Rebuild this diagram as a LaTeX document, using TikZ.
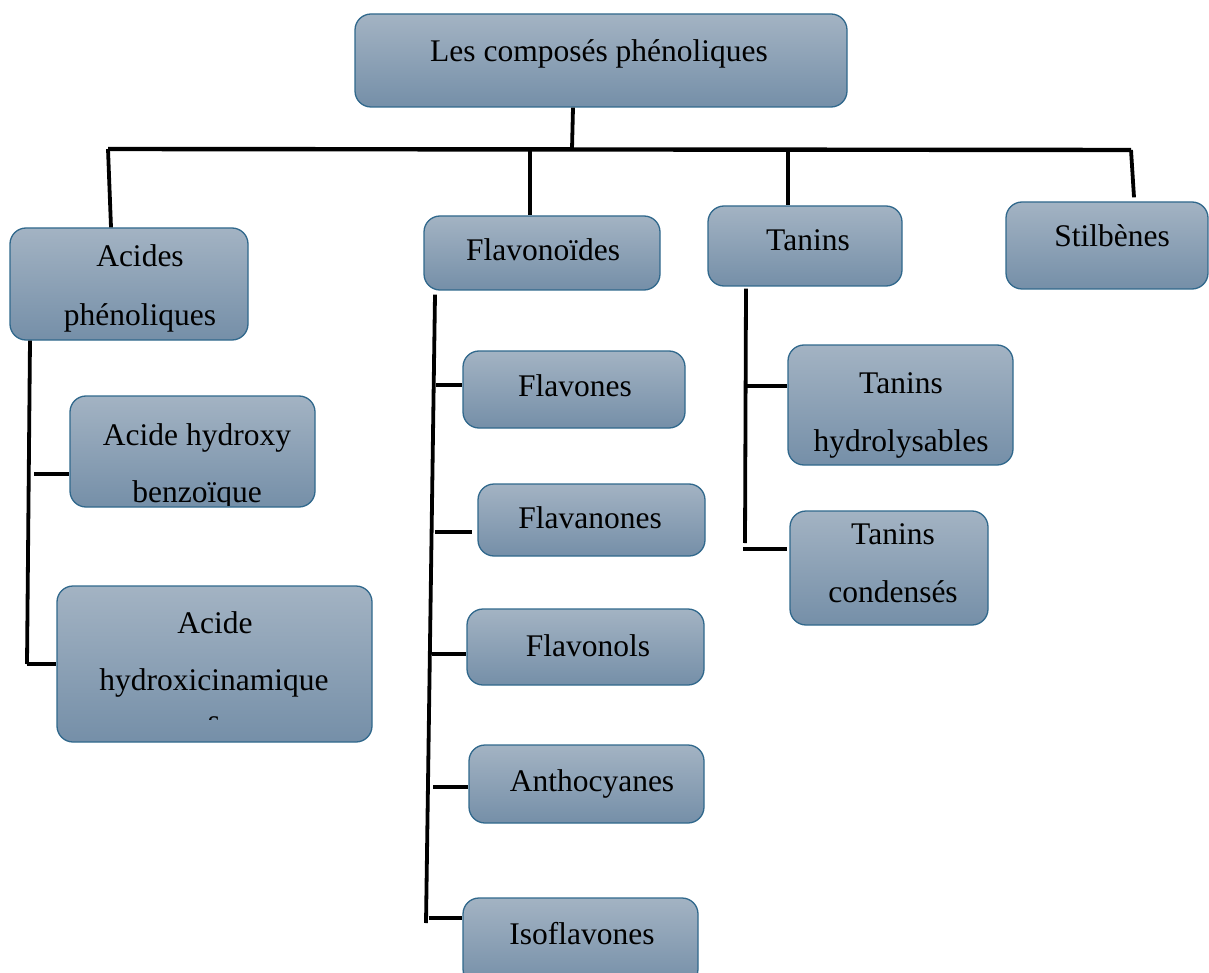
\documentclass[tikz,border=0pt]{standalone}
\usepackage{fontspec}
\setmainfont{Liberation Serif}
\definecolor{boxtop}{RGB}{163,179,195}
\definecolor{boxbot}{RGB}{117,143,168}
\definecolor{boxline}{RGB}{48,104,140}
\tikzset{
  phbox/.style={draw=boxline, line width=1.3pt, rounded corners=16pt,
    top color=boxtop, bottom color=boxbot, inner sep=0pt, rectangle},
  txt/.style={anchor=base, inner sep=0pt, font=\fontsize{31.5}{58}\selectfont, text=black},
  conn/.style={line width=3.8pt, black},
  bus/.style={line width=4.4pt, black}
}
\newcommand\phnode[5]{%
  \node[phbox, minimum width={(#4-#2)*1pt}, minimum height={(#5-#3)*1pt}]
    (#1) at ({(#2+#4)/2},{(#3+#5)/2}) {};}
\begin{document}
\begin{tikzpicture}[x=1pt,y=-1pt]
\useasboundingbox (0,0) rectangle (1209,973);
% boxes
\phnode{top}{355}{14}{847}{107}
\phnode{acides}{10}{228}{248}{340}
\phnode{flavonoides}{424}{216}{660}{290}
\phnode{tanins}{708}{206}{902}{286}
\phnode{stilbenes}{1006}{202}{1208}{289}
\phnode{hbenz}{70}{396}{315}{507}
\phnode{hcinn}{57}{586}{372}{742}
\phnode{flavones}{463}{351}{685}{428}
\phnode{flavanones}{478}{484}{705}{556}
\phnode{flavonols}{467}{609}{704}{685}
\phnode{antho}{469}{745}{704}{823}
\phnode{isofl}{463}{898}{698}{985}
\phnode{thydro}{788}{345}{1013}{465}
\phnode{tcond}{790}{511}{988}{625}
% texts
\node[txt] (ttop) at (599,62) {Les composés phénoliques};
\node[txt] (tac1) at (140,267) {Acides};
\node[txt] (tac2) at (140,325) {phénoliques};
\node[txt] (tfla) at (543,261) {Flavonoïdes};
\node[txt] (ttan) at (808,251) {Tanins};
\node[txt] (tsti) at (1112,247) {Stilbènes};
\node[txt] (thb1) at (197,445) {Acide hydroxy};
\begin{scope}
  \clip (60,380) rectangle (330,505);
  \node[txt] (thb2) at (197,502) {benzoïque};
\end{scope}
\node[txt] (thc1) at (215,633) {Acide};
\node[txt] (thc2) at (214,690) {hydroxicinamique};
\begin{scope}
  \clip (60,700) rectangle (370,719);
  \node[txt] (thc3) at (214,731) {s};
\end{scope}
\node[txt] (tfl1) at (575,396) {Flavones};
\node[txt] (tfl2) at (590,528) {Flavanones};
\node[txt] (tfl3) at (588,656) {Flavonols};
\node[txt] (tfl4) at (592,791) {Anthocyanes};
\node[txt] (tfl5) at (582,944) {Isoflavones};
\node[txt] (tth1) at (901,393) {Tanins};
\node[txt] (tth2) at (901,451) {hydrolysables};
\node[txt] (ttc1) at (893,544) {Tanins};
\node[txt] (ttc2) at (893,602) {condensés};
% bus
\coordinate (b1) at (108,149);
\coordinate (b2) at (530,149);
\coordinate (b3) at (788,150);
\coordinate (b4) at (1131,150);
\draw[conn] ([xshift=-28pt]top.south) -- (572,149);
\draw[bus] (b1) -- (b4);
\draw[conn] (b1) -- ([xshift=-18pt]acides.north);
\draw[conn] (b2) -- ([xshift=-12pt]flavonoides.north);
\draw[conn] (b3) -- ([xshift=-17pt]tanins.north);
\draw[conn] (b4) -- ([xshift=27pt,yshift=4pt]stilbenes.north);
% acides
\coordinate (a0) at (27,664);
\coordinate (a1) at (34,474);
\draw[conn] ([xshift=-99pt]acides.south) -- (a0);
\draw[conn] (a1) -- (a1 -| hbenz.west);
\draw[conn] (a0) -- (a0 -| hcinn.west);
% flavonoides
\coordinate (f0) at (426,923);
\draw[conn] ([xshift=-107pt,yshift=-4pt]flavonoides.south) -- (f0);
\coordinate (fb1) at (436,385);
\coordinate (fb2) at (435,532);
\coordinate (fb3) at (432,654);
\coordinate (fb4) at (433,787);
\coordinate (fb5) at (429,918);
\draw[conn] (fb1) -- (fb1 -| flavones.west);
\draw[conn] (fb2) -- ([xshift=-5pt]fb2 -| flavanones.west);
\draw[conn] (fb3) -- (fb3 -| flavonols.west);
\draw[conn] (fb4) -- (fb4 -| antho.west);
\draw[conn] (fb5) -- (fb5 -| isofl.west);
% tanins
\coordinate (t0) at (745,543);
\coordinate (t1) at (746,386);
\coordinate (t2) at (743,549);
\draw[conn] ([xshift=-59pt,yshift=-2pt]tanins.south) -- (t0);
\draw[conn] (t1) -- (t1 -| thydro.west);
\draw[conn] (t2) -- ([xshift=-2pt]t2 -| tcond.west);
\end{tikzpicture}
\end{document}
